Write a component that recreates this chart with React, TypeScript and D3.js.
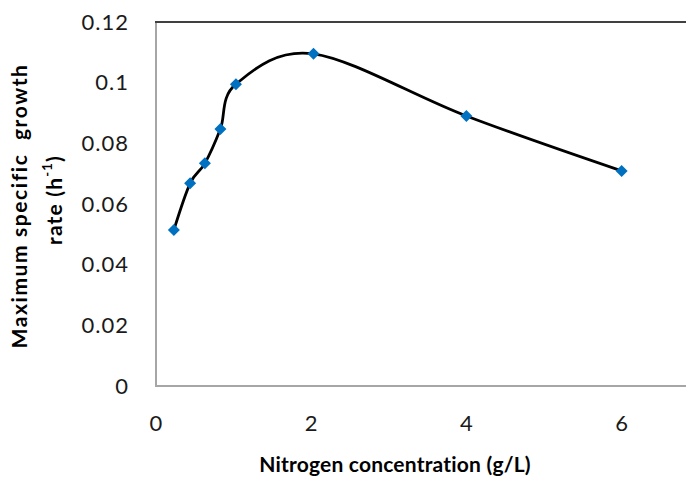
import React from "react";
import * as d3 from "d3";

const nitrogen = [0.23, 0.44, 0.63, 0.83, 1.03, 2.03, 4.0, 6.0];
const growthRate = [0.0514, 0.0668, 0.0734, 0.0847, 0.0995, 0.1095, 0.089, 0.0709];
const xTicks = [0, 2, 4, 6];
const yTicks = [0, 0.02, 0.04, 0.06, 0.08, 0.1, 0.12];
const yTickLabels = ["0", "0.02", "0.04", "0.06", "0.08", "0.1", "0.12"];

const W = 686;
const H = 480;
const FONT = "Lato, 'Open Sans', sans-serif";

export default function App() {
  const x = d3.scaleLinear().domain([0, 8]).range([156, 156 + 8 * 77.6]);
  const y = d3.scaleLinear().domain([0, 0.12]).range([386, 22]);
  const pts: [number, number][] = nitrogen.map((v, i) => [x(v), y(growthRate[i])]);
  const line = d3.line().curve(d3.curveCardinal.tension(0))(pts) || "";
  const diamond = d3.symbol().type(d3.symbolSquare).size(72)() || "";
  const x0 = x(0);
  const right = W + 10;

  return (
    <div style={{ position: "absolute", left: 0, top: 0, width: W, height: H, background: "#fff" }}>
      <svg width={W} height={H} style={{ display: "block" }}>
        <rect width={W} height={H} fill="#fff" />
        {/* frame */}
        <line x1={x0} x2={right} y1={y(0)} y2={y(0)} stroke="#a6a6a6" strokeWidth={2} />
        <line x1={x0} x2={x0} y1={y(0.12)} y2={y(0) + 1} stroke="#a6a6a6" strokeWidth={2} />
        <line x1={x0 - 1} x2={right} y1={y(0.12)} y2={y(0.12)} stroke="#404040" strokeWidth={2} />
        {/* y ticks */}
        {yTicks.map((t, i) => (
          <text key={t} x={129} y={y(t) + 2} textAnchor="end" dominantBaseline="middle"
            fontFamily={FONT} fontSize={22} letterSpacing={1} fill="#1a1a1a">{yTickLabels[i]}</text>
        ))}
        {/* x ticks */}
        {xTicks.map((t) => (
          <text key={t} x={x(t)} y={425} textAnchor="middle" dominantBaseline="middle"
            fontFamily={FONT} fontSize={22} fill="#1a1a1a">{t}</text>
        ))}
        {/* curve */}
        <path d={line} fill="none" stroke="#000" strokeWidth={2.8} />
        {pts.map(([px, py], i) => (
          <path key={i} d={diamond} transform={`translate(${px},${py}) rotate(45)`} fill="#0070c0" />
        ))}
        {/* axis titles */}
        <text x={395} y={467} textAnchor="middle" dominantBaseline="middle"
          fontFamily={FONT} fontWeight="bold" fontSize={21} letterSpacing={0.2} fill="#000">Nitrogen concentration (g/L)</text>
        <g transform="translate(22,206) rotate(-90)">
          <text x={0} y={0} textAnchor="middle" dominantBaseline="middle" style={{ whiteSpace: "pre" }}
            fontFamily={FONT} fontWeight="bold" fontSize={21} letterSpacing={1.6} fill="#000">Maximum specific  growth</text>
        </g>
        <g transform="translate(57,200) rotate(-90)">
          <text x={0} y={0} textAnchor="middle" dominantBaseline="middle"
            fontFamily={FONT} fontWeight="bold" fontSize={21} letterSpacing={1.2} fill="#000">
            rate (h<tspan baselineShift="super" fontSize={13}>-1</tspan>)
          </text>
        </g>
      </svg>
    </div>
  );
}
